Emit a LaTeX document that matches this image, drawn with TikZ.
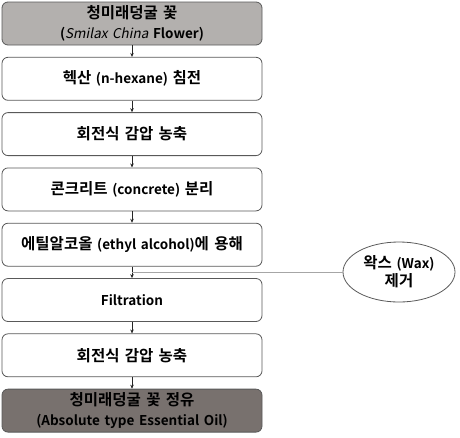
\documentclass[tikz,border=0pt]{standalone}
\usepackage{fontspec}
\setmainfont{Noto Sans CJK KR}[BoldFont={Noto Sans CJK KR Bold}, AutoFakeSlant=0.2, WordSpace=1.5]
\newfontfamily\kofont{Noto Sans CJK KR}[Scale=1.15, BoldFont={Noto Sans CJK KR Bold}, WordSpace=1.5]
\newcommand{\ko}[1]{{\kofont\bfseries #1}}
\usetikzlibrary{shapes.geometric,arrows.meta}

\definecolor{rawgray}{HTML}{B3B0AE}
\definecolor{oilgray}{HTML}{78716E}

\begin{document}
\begin{tikzpicture}[x=1pt, y=-1pt, font=\bfseries\fontsize{13.5}{20}\selectfont]
        \tikzset{
          stepbox/.style={rectangle, rounded corners=6pt, draw=black!65, line width=0.8pt, fill=white,
                          minimum width=260pt, minimum height=43pt, align=center, inner sep=0pt},
          flow/.style={-{Stealth[length=4pt, width=3.5pt]}, black!85, line width=0.7pt}
        }
        \useasboundingbox (0,0) rectangle (460,437);

        % Raw material
        \node[stepbox, fill=rawgray] (raw) at (132, 23.5) {\ko{청미래덩굴 꽃}\\({\mdseries\itshape Smilax China} Flower)};

        % Process steps
        \foreach \i/\txt in {1/\ko{헥산} (n-hexane) \ko{침전}, 2/\ko{회전식 감압 농축}, 3/\ko{콘크리트} (concrete) \ko{분리},
                             4/\ko{에틸알코올} (ethyl alcohol)\ko{에 용해}, 5/Filtration, 6/\ko{회전식 감압 농축}} {
          \node[stepbox] (step\i) at (132, 23.5 + \i*55.3) {\txt};
        }

        % Product
        \node[stepbox, fill=oilgray] (oil) at (132, 410.6) {\ko{청미래덩굴 꽃 정유}\\(Absolute type Essential Oil)};

        % Side removal
        \node[ellipse, draw=black!65, line width=0.8pt, minimum width=112pt, minimum height=60pt,
              align=center, inner sep=0pt, font=\bfseries\fontsize{13.5}{18}\selectfont] (wax) at (399, 272) {\ko{왁스} (Wax)\\\ko{제거}};

        % Connections
        \draw[flow] (raw) -- (step1);
        \foreach \i [evaluate=\i as \j using int(\i+1)] in {1,...,5} {
          \draw[flow] (step\i) -- (step\j);
        }
        \draw[flow] (step6) -- (oil);
        \draw[gray!70, line width=0.8pt] (wax.west) -- (wax.west -| step4.south);
      \end{tikzpicture}
\end{document}
